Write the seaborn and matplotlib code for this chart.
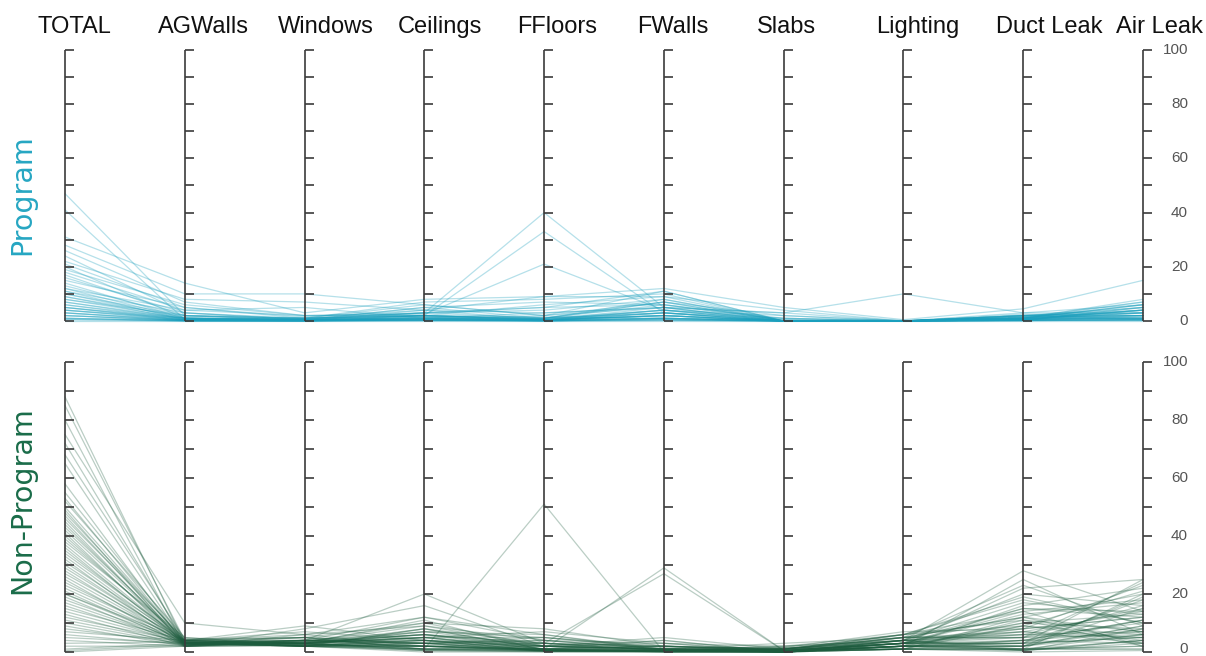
import numpy as np
import pandas as pd
import matplotlib
matplotlib.use("Agg")
import matplotlib.pyplot as plt
import seaborn as sns

sns.set_theme(style="white")
plt.rcParams['font.family'] = ['Liberation Sans', 'DejaVu Sans']

categories = ["TOTAL", "AGWalls", "Windows", "Ceilings", "FFloors",
              "FWalls", "Slabs", "Lighting", "Duct Leak", "Air Leak"]
tick_values = list(range(0, 101, 10))
tick_labels = [0, 20, 40, 60, 80, 100]

# ---- Program homes ----
prog_total = [47, 41, 31, 28, 26, 24, 22, 21, 20, 19, 18, 17, 16, 15, 14, 13, 12, 12, 11, 11,
              10, 10, 9, 9, 8, 8, 7, 7, 6, 6, 5, 5, 5, 4, 4, 4, 3, 3, 3, 2, 2, 2, 1, 1, 1, 0.5, 0.5, 0]
prog_agwalls = [2, 0.5, 14, 10, 7, 3, 8, 5, 1, 6, 4, 2, 3, 5, 1, 2, 4, 1, 3, 0.5,
                2, 1, 1.5, 0.5, 1, 2, 0.5, 1, 1, 0.3, 0.5, 1, 0.2, 0.5, 0.3, 1, 0.2, 0.5, 0.1, 0.3,
                0.2, 0.1, 0.1, 0.2, 0, 0.1, 0, 0]
prog_windows = [1, 0.5, 3, 10, 2, 1, 7, 1, 0.5, 2, 5, 1, 0.5, 1.5, 0.3, 1, 2, 0.5, 0.5, 1,
                0.3, 0.5, 1, 0.2, 0.5, 0.3, 1, 0.2, 0.5, 0.1, 0.3, 0.2, 0.5, 0.1, 0.2, 0.3, 0.1, 0.2, 0, 0.1,
                0.2, 0, 0.1, 0, 0.1, 0, 0, 0]
prog_ceilings = [3, 2, 8, 6, 2.5, 7, 4, 2, 5, 3, 1, 6, 2, 4, 1.5, 3, 2, 5, 1, 2,
                 3, 1, 2, 4, 1, 0.5, 2, 1.5, 3, 0.5, 1, 2, 0.5, 1, 1.5, 0.3, 1, 0.5, 2, 0.3,
                 0.5, 1, 0.2, 0.5, 0.3, 0.1, 0.2, 0]
prog_ffloors = [40, 33, 9, 2, 21, 8, 9, 1, 7, 5, 1, 2, 6, 0.5, 1, 4, 0.5, 1, 3, 0.5,
                5, 0.2, 1, 3, 0.5, 2, 0.3, 0.5, 1, 0.2, 0.5, 1.5, 0.1, 0.5, 0.2, 1, 0.1, 0.3, 0.5, 0.1,
                0.2, 0, 0.3, 0.1, 0, 0.1, 0, 0]
prog_fwalls = [5, 3, 12, 11, 4, 10, 9, 8, 6, 11, 7, 5, 9, 4, 6, 8, 3, 7, 5, 2,
               6, 4, 3, 5, 2, 7, 1, 4, 3, 2, 5, 1, 3, 2, 1, 4, 0.5, 2, 1, 3,
               0.5, 1, 2, 0.3, 1, 0.5, 0.2, 0]
prog_slabs = [3, 1, 5, 0, 2, 0, 4, 0, 1, 0, 0, 3, 0, 0, 0.5, 0, 0, 2, 0, 0,
              0, 1, 0, 0, 0, 0, 0.5, 0, 0, 0, 0, 0, 0, 0, 0, 0, 0, 0, 0, 0,
              0, 0, 0, 0, 0, 0, 0, 0]
prog_lighting = [10, 0, 0.5, 0, 0, 0, 0, 0, 0, 0.3, 0, 0, 0, 0, 0, 0, 0, 0, 0, 0,
                 0, 0, 0, 0, 0, 0, 0, 0, 0, 0, 0, 0, 0, 0, 0, 0, 0, 0, 0, 0,
                 0, 0, 0, 0, 0, 0, 0, 0]
prog_duct = [3, 2, 4.5, 1, 2, 1.5, 3, 1, 2, 0.5, 1.5, 2, 1, 2.5, 0.5, 1, 2, 1, 0.5, 1.5,
             1, 2, 0.5, 1, 1.5, 0.5, 1, 2, 0.5, 1, 0.3, 1, 0.5, 1.5, 0.3, 1, 0.5, 0.2, 1, 0.5,
             0.3, 0.5, 0.2, 0.1, 0.3, 0.1, 0.2, 0]
prog_air = [6, 4, 15, 8, 5, 7, 3, 6, 2, 4, 5, 3, 7, 2, 4, 6, 1, 3, 5, 2,
            4, 1, 3, 6, 2, 1, 4, 3, 0.5, 2, 5, 1, 3, 0.5, 2, 1, 4, 0.5, 1, 2,
            0.3, 1, 0.5, 1.5, 0.2, 0.5, 0.3, 0]

# ---- Non-Program homes ----
non_total = [88, 85, 80, 75, 72, 68, 65, 58, 55, 53, 52, 50, 49, 48, 47, 46, 45, 44, 43, 42,
             41, 40, 39, 38, 37, 36, 35, 34, 33, 32, 31, 30, 29, 28, 27, 26, 25, 24, 23, 22,
             21, 20, 20, 19, 18, 17, 16, 15, 14, 13, 12, 11, 10, 9, 8, 7, 6, 5, 4, 3,
             2, 1, 0.5, 0]
non_agwalls = [3, 4, 2, 10, 3.5, 4.5, 3, 2.5, 4, 3, 5, 3.5, 2, 4, 3, 4.5, 2.5, 3, 4, 3.5,
               2, 3, 4, 5, 3, 2.5, 3.5, 4, 3, 2, 4, 3, 3.5, 2.5, 4, 3, 2, 3.5, 4, 3,
               2.5, 3, 4, 2, 3.5, 3, 2.5, 4, 3, 2, 3.5, 3, 2.5, 2, 3, 4, 2.5, 3, 2, 3.5,
               2, 3, 2.5, 2]
non_windows = [4, 3, 8, 6, 2, 5, 3.5, 4, 9, 3, 2.5, 4, 6, 3, 5, 2, 4, 3, 7, 2.5,
               4, 3, 5, 2, 3.5, 4, 3, 6, 2, 4, 3, 5, 2.5, 3, 4, 2, 3.5, 3, 5, 2,
               4, 3, 2.5, 3.5, 2, 4, 3, 2, 3, 2.5, 4, 2, 3, 3.5, 2, 3, 2.5, 2, 3, 2,
               2.5, 2, 3, 2]
non_ceilings = [20, 5, 16, 12, 8, 3, 10, 6, 4, 11, 7, 2, 9, 5, 3, 8, 12, 6, 4, 2,
                7, 5, 10, 3, 6, 4, 8, 2, 5, 3, 7, 1, 4, 6, 3, 2, 9, 5, 1, 4,
                3, 6, 2, 5, 1, 3, 4, 2, 1, 3, 2, 4, 1, 2, 3, 1, 2, 0.5, 1, 2,
                0.5, 1, 0.5, 0]
non_ffloors = [3, 5, 2, 6, 1, 4, 8, 2, 3, 0.5, 5, 1, 2, 7, 3, 1, 4, 2, 0.5, 3,
               6, 1, 2, 4, 1, 0.5, 3, 2, 1, 5, 2, 0.5, 1, 3, 2, 0.5, 4, 1, 2, 0.5,
               1, 3, 0.5, 2, 1, 0.5, 2, 1, 51, 0.5, 1, 2, 0.5, 1, 0.3, 1, 0.5, 0.2, 1, 0.3,
               0.5, 0.2, 0.1, 0]
non_fwalls = [2, 1, 3, 0.5, 4, 1, 2, 5, 1, 0.5, 2, 29, 1, 3, 0.5, 2, 1, 4, 0.5, 27,
              1, 2, 0.5, 3, 1, 0.5, 2, 1, 0.5, 1.5, 1, 0.3, 2, 0.5, 1, 0.3, 1, 0.5, 2, 0.3,
              1, 0.5, 0.2, 1, 0.3, 0.5, 1, 0.2, 0, 0.5, 0.3, 0.2, 1, 0.1, 0.5, 0.2, 0.1, 0.3, 0, 0.2,
              0.1, 0, 0.1, 0]
non_slabs = [1, 0.5, 2, 1, 0, 1.5, 0.5, 1, 3, 0, 1, 0.5, 2, 0, 1, 0.5, 1.5, 0, 1, 0.5,
             0, 1, 2, 0.5, 0, 1, 0.5, 0, 1.5, 0, 0.5, 1, 0, 0.5, 1, 0, 0.5, 0, 1, 0.3,
             0, 0.5, 1, 0, 0.3, 0.5, 0, 1, 0, 0.3, 0, 0.5, 0, 0.2, 0, 0.3, 0, 0, 0.2, 0,
             0.1, 0, 0, 0]
non_lighting = [4, 3, 6, 5, 2, 7, 3, 4, 5, 2, 6, 3, 4, 2, 5, 3, 1, 4, 6, 3,
                2, 5, 4, 3, 1, 6, 2, 4, 3, 5, 2, 3, 4, 1, 5, 2, 3, 4, 2, 6,
                3, 1, 4, 2, 3, 5, 1, 2, 3, 4, 2, 1, 3, 2, 4, 1, 2, 3, 1, 2,
                1, 2, 1, 1]
non_duct = [28, 22, 18, 12, 25, 8, 15, 20, 5, 10, 14, 3, 17, 9, 23, 6, 12, 2, 11, 4,
            16, 7, 1, 13, 9, 19, 3, 8, 14, 5, 2, 10, 6, 1, 12, 4, 7, 15, 2, 9,
            3, 11, 5, 1, 8, 6, 2, 4, 0.5, 7, 3, 1, 5, 2, 0.5, 4, 1, 3, 0.5, 2,
            1, 0.5, 1, 0]
non_air = [14, 25, 10, 20, 6, 23, 12, 16, 24, 8, 18, 5, 13, 21, 9, 15, 3, 19, 7, 11,
           22, 14, 6, 17, 4, 10, 25, 12, 2, 16, 8, 13, 5, 20, 7, 11, 3, 14, 9, 6,
           18, 2, 10, 4, 12, 7, 15, 3, 8, 5, 11, 1, 6, 9, 4, 7, 2, 5, 3, 6,
           1, 4, 2, 0.5]

program_cols = [prog_total, prog_agwalls, prog_windows, prog_ceilings, prog_ffloors,
                prog_fwalls, prog_slabs, prog_lighting, prog_duct, prog_air]
non_program_cols = [non_total, non_agwalls, non_windows, non_ceilings, non_ffloors,
                    non_fwalls, non_slabs, non_lighting, non_duct, non_air]


def to_long(cols):
    wide = pd.DataFrame(dict(zip(categories, cols)))
    wide["home"] = np.arange(len(wide))
    long = wide.melt(id_vars="home", var_name="measure", value_name="value")
    long["pos"] = long["measure"].map({c: i for i, c in enumerate(categories)})
    return long.sort_values(["home", "pos"])


W, H = 1206, 656
fig = plt.figure(figsize=(W / 100, H / 100), dpi=100)
ax_top = fig.add_axes([65 / W, 1 - 321 / H, 1078 / W, 271 / H])
ax_bot = fig.add_axes([65 / W, 1 - 652 / H, 1078 / W, 290 / H])

unit_px = 1078 / 9.0
axis_color = "#3b3b3b"

panels = [
    (ax_top, program_cols, "#1a9fbd", 0.32, "Program", "#26a6c2", 195, 0),
    (ax_bot, non_program_cols, "#1d5c3e", 0.30, "Non-Program", "#1a6c49", 500, 1.2),
]

for ax, cols, line_color, alpha, label, label_color, label_y, zero_lift in panels:
    data = to_long(cols)
    sns.lineplot(data=data, x="pos", y="value", units="home", estimator=None,
                 sort=False, color=line_color, alpha=alpha, linewidth=0.9,
                 legend=False, ax=ax)
    for ln in ax.lines:
        ln.set_clip_on(False)

    ax.set_xlim(0, 9)
    ax.set_ylim(0, 100)
    ax.axis("off")

    # parallel vertical axes with short right-pointing ticks
    tick_len = 9 / unit_px
    for i in range(len(categories)):
        ax.plot([i, i], [0, 100], color=axis_color, lw=1.2, clip_on=False, zorder=5,
                solid_capstyle="butt")
        ax.hlines(tick_values, i, i + tick_len, color=axis_color, lw=1.2,
                  clip_on=False, zorder=5)

    # value labels on the last axis
    for t in tick_labels:
        y = t + zero_lift if t == 0 else t
        ax.text(9 + 45 / unit_px, y, str(t), ha="right", va="center",
                fontsize=11, color="#555555", clip_on=False)

    fig.text(22 / W, 1 - label_y / H, label, rotation=90, ha="center", va="center",
             fontsize=20.5, color=label_color, family="DejaVu Sans")

# column headers (baseline about 33 px from the top edge)
for i, name in enumerate(categories):
    ax_top.text(i - 27 / unit_px, 100 + 17 / 2.71, name, ha="left", va="baseline",
                fontsize=17, color="#111111", clip_on=False)

fig.savefig("out.png", dpi=100, facecolor="white")
